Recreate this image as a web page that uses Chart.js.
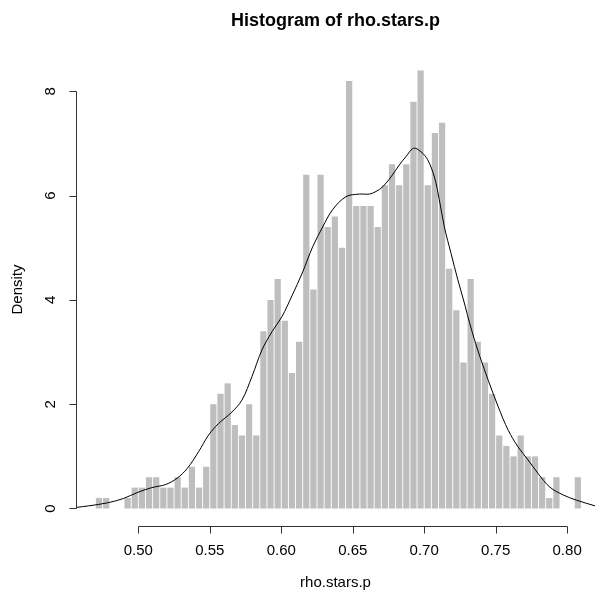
<!DOCTYPE html>
<html>
<head>
<meta charset="utf-8">
<script src="https://cdn.jsdelivr.net/npm/chart.js@4/dist/chart.umd.min.js"></script>
<style>
  html, body { margin: 0; padding: 0; background: #ffffff; }
  #wrap { width: 595px; height: 597px; }
</style>
</head>
<body>
<div id="wrap"><canvas id="c" width="595" height="597"></canvas></div>
<script>
// Histogram bin edges (left edges) and densities
const binLeft = [0.470, 0.475, 0.480, 0.485, 0.490, 0.495, 0.500, 0.505, 0.510, 0.515,
                 0.520, 0.525, 0.530, 0.535, 0.540, 0.545, 0.550, 0.555, 0.560, 0.565,
                 0.570, 0.575, 0.580, 0.585, 0.590, 0.595, 0.600, 0.605, 0.610, 0.615,
                 0.620, 0.625, 0.630, 0.635, 0.640, 0.645, 0.650, 0.655, 0.660, 0.665,
                 0.670, 0.675, 0.680, 0.685, 0.690, 0.695, 0.700, 0.705, 0.710, 0.715,
                 0.720, 0.725, 0.730, 0.735, 0.740, 0.745, 0.750, 0.755, 0.760, 0.765,
                 0.770, 0.775, 0.780, 0.785, 0.790, 0.795, 0.800, 0.805];
const binWidth = 0.005;
const density = [0.2, 0.2, 0.0, 0.0, 0.2, 0.4, 0.4, 0.6, 0.6, 0.4,
                 0.4, 0.6, 0.4, 0.8, 0.4, 0.8, 2.0, 2.2, 2.4, 1.6,
                 1.4, 2.0, 1.4, 3.4, 4.0, 4.4, 3.6, 2.6, 3.2, 6.4,
                 4.2, 6.4, 5.4, 5.6, 5.0, 8.2, 5.8, 5.8, 5.8, 5.4,
                 6.2, 6.6, 6.2, 6.6, 7.8, 8.4, 6.2, 7.2, 7.4, 4.6,
                 3.8, 2.8, 4.4, 3.2, 2.8, 2.2, 1.4, 1.2, 1.0, 1.4,
                 1.0, 1.0, 0.6, 0.2, 0.6, 0.0, 0.0, 0.6];

// Kernel density curve
const kdeX = [0.4564, 0.4653, 0.4787, 0.4894, 0.4997, 0.5094, 0.5192, 0.5271, 0.5343, 0.5422,
              0.5492, 0.5562, 0.5655, 0.5725, 0.5795, 0.5865, 0.5935, 0.6005, 0.6075, 0.6146,
              0.6220, 0.6290, 0.6359, 0.6453, 0.6546, 0.6616, 0.6663, 0.6710, 0.6768, 0.6826,
              0.6873, 0.6926, 0.6978, 0.7024, 0.7071, 0.7106, 0.7141, 0.7188, 0.7234, 0.7273,
              0.7332, 0.7390, 0.7448, 0.7518, 0.7588, 0.7657, 0.7727, 0.7797, 0.7879, 0.7972,
              0.8065, 0.8195];
const kdeY = [0.02, 0.05, 0.11, 0.19, 0.31, 0.40, 0.46, 0.58, 0.77, 1.09,
              1.41, 1.63, 1.85, 2.08, 2.53, 3.04, 3.39, 3.68, 4.08, 4.51,
              5.02, 5.40, 5.73, 5.98, 6.03, 6.03, 6.08, 6.17, 6.36, 6.59,
              6.75, 6.91, 6.84, 6.69, 6.36, 5.92, 5.40, 4.89, 4.40, 4.02,
              3.42, 2.91, 2.46, 1.95, 1.50, 1.18, 0.93, 0.67, 0.41, 0.26,
              0.16, 0.05];

// Axis ticks and labels
const xTickValues = [0.50, 0.55, 0.60, 0.65, 0.70, 0.75, 0.80];
const xTickLabels = ['0.50', '0.55', '0.60', '0.65', '0.70', '0.75', '0.80'];
const yTickValues = [0, 2, 4, 6, 8];
const yTickLabels = ['0', '2', '4', '6', '8'];
const titleText = 'Histogram of rho.stars.p';
const xTitle = 'rho.stars.p';
const yTitle = 'Density';

const FONT = "'Liberation Sans', Arial, Helvetica, sans-serif";

const barData = binLeft.map((b, i) => ({ x: b + binWidth / 2, y: density[i] }));
const kdeData = kdeX.map((x, i) => ({ x: x, y: kdeY[i] }));

const rAxes = {
  id: 'rAxes',
  afterDraw(chart) {
    const ctx = chart.ctx;
    const xs = chart.scales.x, ys = chart.scales.y;
    const area = chart.chartArea;
    ctx.save();
    ctx.strokeStyle = '#333333';
    ctx.fillStyle = '#000000';
    ctx.lineWidth = 1;
    // x axis
    const yAx = Math.round(area.bottom) + 0.5;
    const x0 = Math.round(xs.getPixelForValue(xTickValues[0])) + 0.5;
    const x1 = Math.round(xs.getPixelForValue(xTickValues[xTickValues.length - 1])) + 0.5;
    ctx.beginPath();
    ctx.moveTo(x0, yAx); ctx.lineTo(x1, yAx);
    xTickValues.forEach(v => {
      const px = Math.round(xs.getPixelForValue(v)) + 0.5;
      ctx.moveTo(px, yAx); ctx.lineTo(px, yAx + 7);
    });
    ctx.stroke();
    ctx.font = '15px ' + FONT;
    ctx.textAlign = 'center';
    ctx.textBaseline = 'middle';
    xTickValues.forEach((v, i) => {
      ctx.fillText(xTickLabels[i], xs.getPixelForValue(v), yAx + 24);
    });
    // y axis
    const xAx = Math.round(area.left) + 0.5;
    const yb = Math.round(ys.getPixelForValue(yTickValues[0])) + 0.5;
    const yt = Math.round(ys.getPixelForValue(yTickValues[yTickValues.length - 1])) + 0.5;
    ctx.beginPath();
    ctx.moveTo(xAx, yb); ctx.lineTo(xAx, yt);
    yTickValues.forEach(v => {
      const py = Math.round(ys.getPixelForValue(v)) + 0.5;
      ctx.moveTo(xAx, py); ctx.lineTo(xAx - 7, py);
    });
    ctx.stroke();
    yTickValues.forEach((v, i) => {
      ctx.save();
      ctx.translate(xAx - 26, ys.getPixelForValue(v));
      ctx.rotate(-Math.PI / 2);
      ctx.fillText(yTickLabels[i], 0, 0);
      ctx.restore();
    });
    // axis titles
    ctx.fillText(xTitle, (area.left + area.right) / 2, 583);
    ctx.save();
    ctx.translate(18, (area.top + area.bottom) / 2);
    ctx.rotate(-Math.PI / 2);
    ctx.fillText(yTitle, 0, 0);
    ctx.restore();
    ctx.restore();
  }
};

new Chart(document.getElementById('c'), {
  type: 'bar',
  data: {
    datasets: [
      {
        type: 'line',
        label: 'density',
        data: kdeData,
        borderColor: '#000000',
        borderWidth: 1,
        pointRadius: 0,
        tension: 0.35,
        fill: false,
        order: 0
      },
      {
        type: 'bar',
        label: 'rho.stars.p',
        data: barData,
        backgroundColor: 'rgb(190,190,190)',
        borderWidth: 0,
        barPercentage: 0.87,
        categoryPercentage: 1.0,
        grouped: false,
        order: 1
      }
    ]
  },
  options: {
    responsive: false,
    animation: false,
    devicePixelRatio: 1,
    layout: { padding: { left: 76, right: 0, top: 0, bottom: 71 } },
    plugins: {
      legend: { display: false },
      tooltip: { enabled: false },
      title: {
        display: true,
        text: titleText,
        color: '#000000',
        font: { family: FONT, size: 18, weight: 'bold' },
        padding: { top: 10, bottom: 21.4 }
      }
    },
    scales: {
      x: { type: 'linear', min: 0.4564, max: 0.8195, display: false, offset: false },
      y: { type: 'linear', min: -0.336, max: 8.736, display: false }
    }
  },
  plugins: [rAxes]
});
</script>
</body>
</html>
